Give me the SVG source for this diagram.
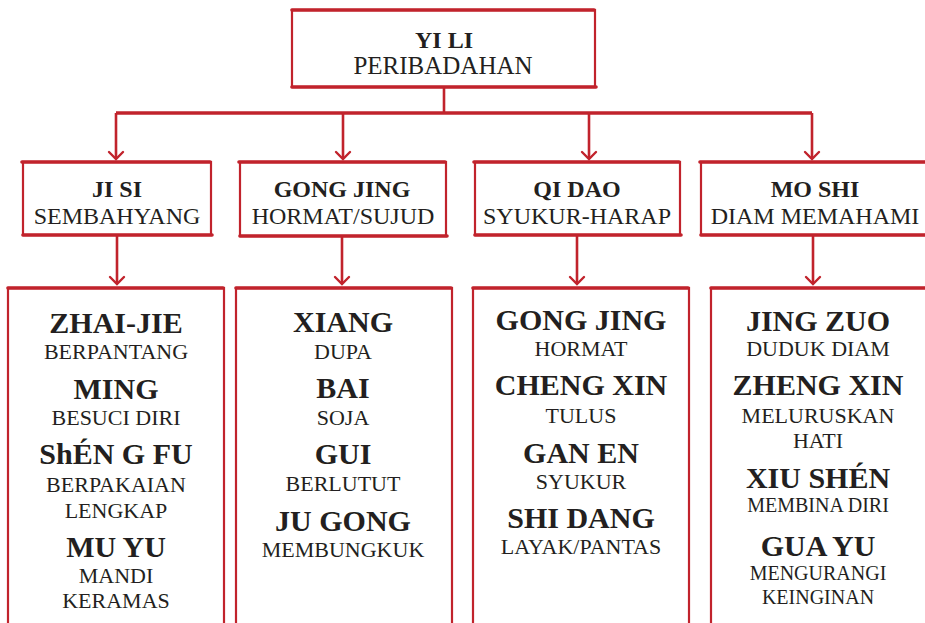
<svg xmlns="http://www.w3.org/2000/svg" width="925" height="623" viewBox="0 0 925 623">
<style>
.box{fill:#ffffff;stroke:#c1232c;stroke-width:2.2}
.edge{fill:none;stroke:#c1232c;stroke-width:3.6;stroke-linecap:round}
.con{fill:none;stroke:#c1232c;stroke-width:2.6}
.bus{fill:none;stroke:#c1232c;stroke-width:3.6}
text{font-family:"Liberation Serif","DejaVu Serif",serif;fill:#231f20;text-anchor:middle}
.t0{font-weight:bold;font-size:24px}
.s0{font-size:25px}
.t1{font-weight:bold;font-size:24px}
.s1{font-size:24px}
.t2{font-weight:bold;font-size:30px}
.s2{font-size:22px}
.s3{font-size:20px}
</style>
<defs>
<marker id="chev" markerUnits="userSpaceOnUse" markerWidth="20" markerHeight="20" viewBox="-10 -10 20 20" refX="0" refY="0" orient="auto" overflow="visible">
<path d="M-7,-7 L0,0 L-7,7" fill="none" stroke="#c1232c" stroke-width="2.4" stroke-linecap="round"/>
</marker>
</defs>

<g id="connectors">
<path class="con" d="M444,87 V113"/>
<path class="bus" d="M116,113 H812"/>
<path class="con" d="M116,113 V159" marker-end="url(#chev)"/>
<path class="con" d="M343,113 V159" marker-end="url(#chev)"/>
<path class="con" d="M589,113 V159" marker-end="url(#chev)"/>
<path class="con" d="M812,113 V159" marker-end="url(#chev)"/>
<path class="con" d="M117,235 V284" marker-end="url(#chev)"/>
<path class="con" d="M342,236 V284" marker-end="url(#chev)"/>
<path class="con" d="M577,235 V284" marker-end="url(#chev)"/>
<path class="con" d="M813,235 V284" marker-end="url(#chev)"/>
</g>

<g id="yi-li">
<rect class="box" x="292" y="10" width="303" height="77"/>
<path class="edge" d="M292,10 H594 M292,87 H596"/>
<text class="t0" x="444" y="48" font-family="Liberation Serif, serif">YI LI</text>
<text class="s0" x="443" y="74" font-family="Liberation Serif, serif">PERIBADAHAN</text>
</g>

<g id="ji-si">
<rect class="box" x="23" y="162" width="188" height="73"/>
<path class="edge" d="M22,162 H210 M23,235 H212"/>
<text class="t1" x="117" y="197">JI SI</text>
<text class="s1" x="117" y="224">SEMBAHYANG</text>
</g>

<g id="gong-jing">
<rect class="box" x="240" y="162" width="206" height="74"/>
<path class="edge" d="M239,162 H445 M240,236 H447"/>
<text class="t1" x="342" y="197">GONG JING</text>
<text class="s1" x="343" y="224">HORMAT/SUJUD</text>
</g>

<g id="qi-dao">
<rect class="box" x="475" y="162" width="205" height="73"/>
<path class="edge" d="M474,162 H679 M475,235 H681"/>
<text class="t1" x="577" y="197">QI DAO</text>
<text class="s1" x="577" y="224">SYUKUR-HARAP</text>
</g>

<g id="mo-shi">
<rect class="box" x="701" y="162" width="232" height="73"/>
<path class="edge" d="M700,162 H930 M701,235 H930"/>
<text class="t1" x="815" y="197">MO SHI</text>
<text class="s1" x="815" y="224">DIAM MEMAHAMI</text>
</g>

<g id="list-ji-si">
<rect class="box" x="8" y="288" width="216" height="360"/>
<path class="edge" d="M8,288 H223"/>
<text class="t2" x="116" y="333">ZHAI-JIE</text>
<text class="s2" x="116" y="359">BERPANTANG</text>
<text class="t2" x="116" y="399">MING</text>
<text class="s2" x="116" y="425">BESUCI DIRI</text>
<text class="t2" x="116" y="464">ShÉN G FU</text>
<text class="s2" x="116" y="492">BERPAKAIAN</text>
<text class="s2" x="116" y="518">LENGKAP</text>
<text class="t2" x="116" y="557">MU YU</text>
<text class="s2" x="116" y="583">MANDI</text>
<text class="s2" x="116" y="608">KERAMAS</text>
</g>

<g id="list-gong-jing">
<rect class="box" x="236" y="288" width="216" height="360"/>
<path class="edge" d="M236,288 H451"/>
<text class="t2" x="343" y="332">XIANG</text>
<text class="s2" x="343" y="359">DUPA</text>
<text class="t2" x="343" y="398">BAI</text>
<text class="s2" x="343" y="425">SOJA</text>
<text class="t2" x="343" y="464">GUI</text>
<text class="s2" x="343" y="491">BERLUTUT</text>
<text class="t2" x="343" y="531">JU GONG</text>
<text class="s2" x="343" y="557">MEMBUNGKUK</text>
</g>

<g id="list-qi-dao">
<rect class="box" x="473" y="288" width="216" height="360"/>
<path class="edge" d="M473,288 H688"/>
<text class="t2" x="581" y="330">GONG JING</text>
<text class="s2" x="581" y="356">HORMAT</text>
<text class="t2" x="581" y="395">CHENG XIN</text>
<text class="s2" x="581" y="423">TULUS</text>
<text class="t2" x="581" y="463">GAN EN</text>
<text class="s2" x="581" y="489">SYUKUR</text>
<text class="t2" x="581" y="528">SHI DANG</text>
<text class="s2" x="581" y="554">LAYAK/PANTAS</text>
</g>

<g id="list-mo-shi">
<rect class="box" x="711" y="288" width="230" height="360"/>
<path class="edge" d="M711,288 H930"/>
<text class="t2" x="818" y="331">JING ZUO</text>
<text class="s2" x="818" y="356">DUDUK DIAM</text>
<text class="t2" x="818" y="395">ZHENG XIN</text>
<text class="s2" x="818" y="423">MELURUSKAN</text>
<text class="s2" x="818" y="448">HATI</text>
<text class="t2" x="818" y="488">XIU SHÉN</text>
<text class="s3" x="818" y="512">MEMBINA DIRI</text>
<text class="t2" x="818" y="556">GUA YU</text>
<text class="s3" x="818" y="580">MENGURANGI</text>
<text class="s3" x="818" y="604">KEINGINAN</text>
</g>
</svg>
